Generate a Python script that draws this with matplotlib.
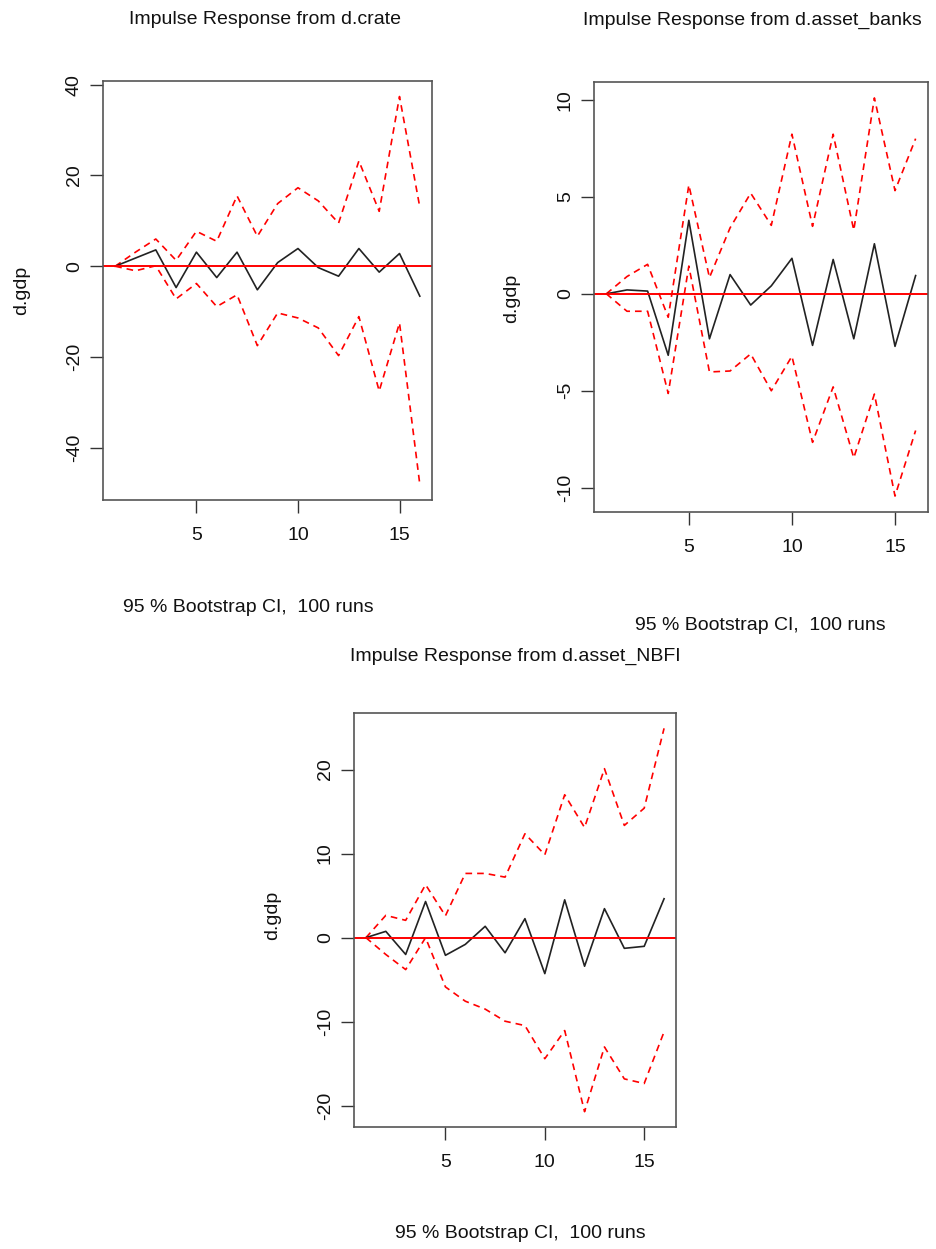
import matplotlib.pyplot as plt

steps = list(range(1, 17))

# Panel 1: Impulse Response from d.crate
crate_irf = [0, 1.8, 3.6, -4.7, 3.1, -2.5, 3.1, -5.2, 0.8, 3.9, -0.3, -2.2, 3.9, -1.3, 2.8, -6.6]
crate_upper = [0, 3.1, 6.0, 1.3, 7.7, 5.5, 15.5, 6.6, 13.8, 17.3, 14.4, 9.5, 23.2, 12.1, 37.4, 13.0]
crate_lower = [0, -1.0, 0.1, -7.2, -3.8, -8.9, -6.3, -17.5, -10.3, -11.4, -13.6, -19.7, -11.1, -27.5, -12.5, -48.1]

# Panel 2: Impulse Response from d.asset_banks
banks_irf = [0, 0.2, 0.14, -3.17, 3.79, -2.32, 0.99, -0.58, 0.41, 1.83, -2.66, 1.77, -2.32, 2.58, -2.71, 0.94]
banks_upper = [0, 0.89, 1.52, -1.21, 5.61, 0.84, 3.4, 5.19, 3.53, 8.23, 3.48, 8.23, 3.28, 10.1, 5.32, 8.0]
banks_lower = [0, -0.9, -0.9, -5.14, 1.43, -4.03, -3.98, -3.1, -5.0, -3.22, -7.66, -4.8, -8.46, -5.17, -10.43, -7.05]

# Panel 3: Impulse Response from d.asset_NBFI
nbfi_irf = [0, 0.75, -2.0, 4.3, -2.1, -0.8, 1.35, -1.8, 2.26, -4.28, 4.5, -3.4, 3.45, -1.27, -1.03, 4.63]
nbfi_upper = [0, 2.65, 2.06, 6.3, 2.6, 7.64, 7.64, 7.2, 12.36, 9.86, 17.0, 13.1, 20.1, 13.35, 15.4, 24.9]
nbfi_lower = [0, -2.0, -3.8, 0.0, -5.86, -7.56, -8.5, -9.94, -10.46, -14.4, -11.05, -20.7, -13.0, -16.8, -17.35, -11.2]

titles = ["Impulse Response from d.crate", "Impulse Response from d.asset_banks",
          "Impulse Response from d.asset_NBFI"]
subtitle = "95 % Bootstrap CI,  100 runs"
ylab = "d.gdp"
xticks = [5, 10, 15]
yticks1 = [-40, -20, 0, 20, 40]
yticks2 = [-10, -5, 0, 5, 10]
yticks3 = [-20, -10, 0, 10, 20]

plt.rcParams['font.family'] = ['Liberation Sans', 'DejaVu Sans']

W, H = 936, 1249
fig = plt.figure(figsize=(W / 100, H / 100), dpi=100)
fig.patch.set_facecolor('white')


def add_ax(l, t, r, b):
    return fig.add_axes([l / W, 1 - b / H, (r - l) / W, (b - t) / H])


panels = [
    dict(box=(103, 81, 432, 500), irf=crate_irf, up=crate_upper, lo=crate_lower, yt=yticks1,
         title=(265, 20), sub=(248, 608), yl=(22, 290)),
    dict(box=(594, 82, 928, 512), irf=banks_irf, up=banks_upper, lo=banks_lower, yt=yticks2,
         title=(752, 20), sub=(760, 625), yl=(512, 298)),
    dict(box=(354, 713, 676, 1127), irf=nbfi_irf, up=nbfi_upper, lo=nbfi_lower, yt=yticks3,
         title=(515, 656), sub=(520, 1233), yl=(273, 915)),
]

for p, title in zip(panels, titles):
    ax = add_ax(*p['box'])
    ax.plot(steps, p['lo'], color='red', lw=1.2, ls=(0, (4, 3)))
    ax.plot(steps, p['up'], color='red', lw=1.2, ls=(0, (4, 3)))
    ax.plot(steps, p['irf'], color='#222222', lw=1.2)
    ax.axhline(0, color='red', lw=1.4)
    ax.margins(x=0.04, y=0.04)
    ax.set_xticks(xticks)
    ax.set_yticks(p['yt'])
    ax.set_yticklabels([str(v) for v in p['yt']], rotation=90, va='center')
    ax.tick_params(direction='out', length=9.5, width=1, color='#333333', labelsize=14,
                   labelcolor='#111111')
    ax.tick_params(axis='x', pad=10)
    ax.tick_params(axis='y', pad=5)
    for s in ax.spines.values():
        s.set_color('#555555')
        s.set_linewidth(1.2)
    fig.text(p['title'][0] / W, 1 - p['title'][1] / H, title, ha='center', va='center',
             fontsize=14, color='#111111')
    fig.text(p['sub'][0] / W, 1 - p['sub'][1] / H, subtitle, ha='center', va='center',
             fontsize=14, color='#111111')
    fig.text(p['yl'][0] / W, 1 - p['yl'][1] / H, ylab, ha='center', va='center',
             rotation=90, fontsize=14, color='#111111')

fig.savefig('out.png', dpi=100, facecolor='white')
